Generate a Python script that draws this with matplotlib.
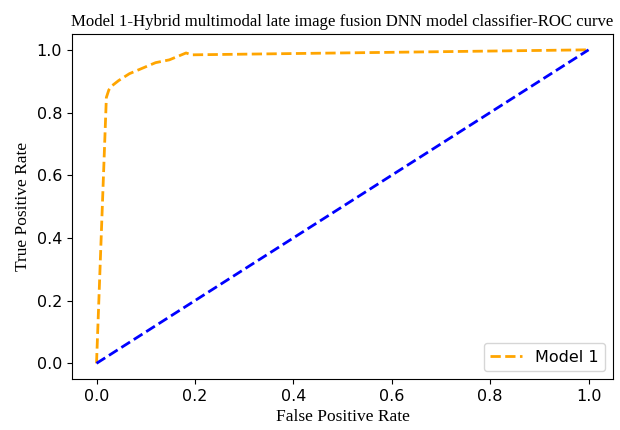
import matplotlib
matplotlib.use("Agg")
import matplotlib.pyplot as plt

fpr = [0.0, 0.02, 0.025, 0.032, 0.045, 0.067, 0.12, 0.148, 0.182, 0.193, 1.0]
tpr = [0.0, 0.848, 0.872, 0.886, 0.902, 0.924, 0.959, 0.968, 0.99, 0.984, 1.0]
diag_x = [0.0, 1.0]
diag_y = [0.0, 1.0]

fig = plt.figure(figsize=(6.2, 4.3), dpi=100)
ax = fig.add_axes([0.116, 0.1186, 0.873, 0.802])
ax.plot(fpr, tpr, linestyle='--', color='orange', linewidth=2, label='Model 1')
ax.plot(diag_x, diag_y, linestyle='--', color='blue', linewidth=2)
ax.set_title('Model 1-Hybrid multimodal late image fusion DNN model classifier-ROC curve',
             family='Liberation Serif', fontsize=12.1)
ax.set_xlabel('False Positive Rate', family='Liberation Serif', fontsize=12.5)
ax.set_ylabel('True Positive Rate', family='Liberation Serif', fontsize=12.5)
ax.tick_params(labelsize=11.5)
ax.legend(loc='lower right', fontsize=11.5)
fig.savefig('out.png', dpi=100)
